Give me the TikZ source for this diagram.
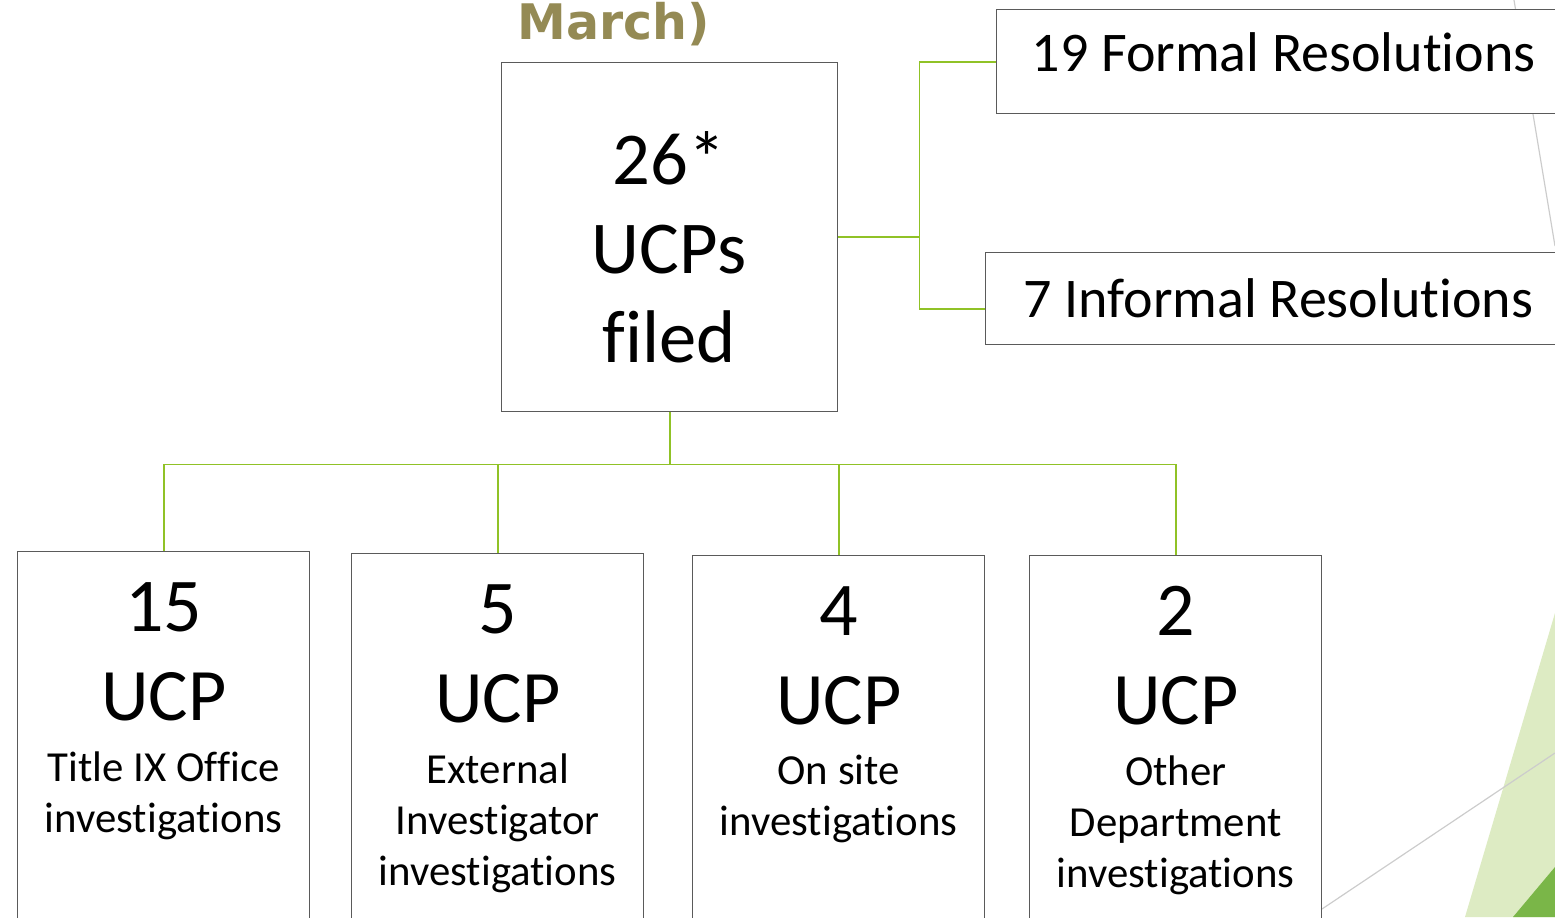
\documentclass[tikz,border=0pt]{standalone}
\usepackage{fontspec}
\setmainfont{Carlito}[Ligatures=NoCommon]
\newfontfamily\headfont{DejaVu Sans}
\usetikzlibrary{positioning}
\definecolor{leaf}{HTML}{90C226}
\definecolor{paleleaf}{HTML}{DDEBC3}
\definecolor{deepleaf}{HTML}{7AB648}
\definecolor{olive}{HTML}{948A54}
\definecolor{frame}{HTML}{5A5A5A}
\tikzset{
  ucpbox/.style={draw=frame, fill=white, line width=0.7pt,
                 inner sep=0pt, anchor=north west},
  link/.style={draw=leaf, line width=0.9pt},
  deco/.style={draw=black!20, line width=0.6pt},
  numtxt/.style={font=\fontsize{38}{38}\selectfont, inner sep=0pt, anchor=base},
  ucptxt/.style={font=\fontsize{37}{37}\selectfont, inner sep=0pt, anchor=base},
  desctxt/.style={font=\fontsize{21.4}{25.5}\selectfont, align=center,
                  inner sep=0pt, anchor=north},
  restxt/.style={font=\fontsize{28}{28}\selectfont, inner sep=0pt, anchor=base},
}
\begin{document}
\begin{tikzpicture}[x=0.5pt, y=-0.5pt]
    \useasboundingbox (0,0) rectangle (1555,917);
    \clip (0,0) rectangle (1555,917);
    % background shapes
    \fill[paleleaf] (1555,613) -- (1465,917) -- (1555,917) -- cycle;
    \fill[deepleaf] (1555,867) -- (1513,917) -- (1555,917) -- cycle;
    \draw[deco] (1514,0) -- (1555,246);
    \draw[deco] (1322,909) -- (1555,753);
    % title remainder
    \node[font=\headfont\bfseries\fontsize{24.5}{24.5}\selectfont, text=olive,
          inner sep=0pt, anchor=base west] (title) at (517,39) {March)};
    % main box
    \node[ucpbox, minimum width=168pt, minimum height=174.5pt] (cbox) at (501,62) {};
    \node[font=\fontsize{37.3}{44.5}\selectfont, align=center, inner sep=0pt,
          anchor=north] (ctext) at (669,131) {26*\\UCPs\\filed};
    % resolutions
    \node[ucpbox, minimum width=287pt, minimum height=52pt] (formal) at (996,9) {};
    \node[restxt] (tformal) at ([yshift=-5pt]formal.center) {19 Formal Resolutions};
    \node[ucpbox, minimum width=292.5pt, minimum height=46pt] (informal) at (985,252) {};
    \node[restxt] (tinformal) at ([yshift=-9.5pt]informal.center) {7 Informal Resolutions};
    % investigation boxes
    \foreach \i/\x/\y/\num/\desc in {1/17/551/15/{Title IX Office\\investigations},
        2/351/553/5/{External\\Investigator\\investigations},
        3/692/555/4/{On site\\investigations},
        4/1029/555/2/{Other\\Department\\investigations}}{
      \node[ucpbox, minimum width=146pt, minimum height=230pt] (b\i) at (\x,\y) {};
      \node[numtxt] (n\i) at ([yshift=-40pt]b\i.north) {\num};
      \node[ucptxt] (u\i) at ([yshift=-44.5pt]n\i.base) {UCP};
      \node[desctxt] (d\i) at ([yshift=-15.5pt]u\i.base) {\desc};
    }
    % connectors
    \draw[link] (cbox.east) -- ++(81,0) coordinate (rsplit);
    \draw[link] (rsplit) |- (formal.west);
    \draw[link] (rsplit) |- ([yshift=-5pt]informal.west);
    \draw[link] (cbox.south) -- ++(0,52) coordinate (bsplit);
    \foreach \i in {1,...,4}{
      \draw[link] (bsplit) -| (b\i.north);
    }
\end{tikzpicture}
\end{document}
